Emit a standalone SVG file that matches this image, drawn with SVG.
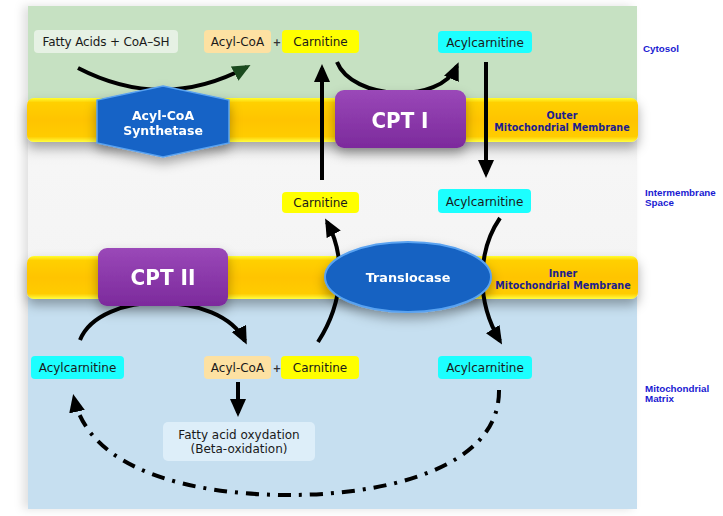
<svg xmlns="http://www.w3.org/2000/svg" width="723" height="516" viewBox="0 0 723 516">
<defs>
  <linearGradient id="memGrad" x1="0" y1="0" x2="0" y2="1">
    <stop offset="0" stop-color="#ffff30"/>
    <stop offset="0.1" stop-color="#ffd000"/>
    <stop offset="0.5" stop-color="#ffc400"/>
    <stop offset="0.88" stop-color="#ffcc00"/>
    <stop offset="1" stop-color="#ffff40"/>
  </linearGradient>
  <linearGradient id="purpleGrad" x1="0" y1="0" x2="0" y2="1">
    <stop offset="0" stop-color="#9a48b8"/>
    <stop offset="1" stop-color="#7c2a9c"/>
  </linearGradient>
  <linearGradient id="imsGrad" x1="0" y1="0" x2="0" y2="1">
    <stop offset="0" stop-color="#e6e6e6"/>
    <stop offset="0.3" stop-color="#f6f6f6"/>
    <stop offset="1" stop-color="#f4f4f4"/>
  </linearGradient>
  <filter id="shadow" x="-10%" y="-30%" width="120%" height="170%">
    <feDropShadow dx="0" dy="6" stdDeviation="6" flood-color="#000" flood-opacity="0.32"/>
  </filter>
  <filter id="panelShadow" x="-5%" y="-5%" width="110%" height="110%">
    <feDropShadow dx="-5" dy="0" stdDeviation="5" flood-color="#000" flood-opacity="0.12"/>
  </filter>
  <marker id="arrowBlack" markerUnits="userSpaceOnUse" markerWidth="18" markerHeight="16" refX="14" refY="8" orient="auto">
    <path d="M0,0 L18,8 L0,16 z" fill="#000"/>
  </marker>
  <marker id="arrowGreen" markerUnits="userSpaceOnUse" markerWidth="18" markerHeight="16" refX="14" refY="8" orient="auto">
    <path d="M0,0 L18,8 L0,16 z" fill="#1a4a1e"/>
  </marker>
  <style>
    .node { font-family: "DejaVu Sans", Verdana, sans-serif; font-size: 12px; fill: #1a1a1a; text-anchor: middle; }
    .plus { font-family: "DejaVu Sans", sans-serif; font-size: 10px; font-weight: bold; fill: #333; text-anchor: middle; }
    .enz { font-family: "DejaVu Sans", Verdana, sans-serif; font-weight: bold; fill: #ffffff; text-anchor: middle; }
    .region { font-family: "Liberation Sans", Arial, sans-serif; font-weight: bold; font-size: 9.8px; fill: #1a1ad2; }
    .memlbl { font-family: "DejaVu Sans", Verdana, sans-serif; font-weight: bold; font-size: 9.6px; fill: #1c1c8e; text-anchor: middle; }
    .conn { fill: none; stroke: #000; stroke-width: 4; }
    .box { stroke: none; }
  </style>
</defs>

<!-- background regions -->
<g id="regions" filter="url(#panelShadow)">
  <rect x="28" y="6" width="609" height="110" fill="#c6e1c2"/>
  <rect x="28" y="116" width="609" height="164" fill="url(#imsGrad)"/>
  <rect x="28" y="280" width="609" height="229" fill="#c6dff0"/>
</g>

<g id="outer-membrane" filter="url(#shadow)">
  <rect x="27" y="98" width="611" height="44" rx="7" fill="url(#memGrad)"/>
</g>
<g id="inner-membrane" filter="url(#shadow)">
  <rect x="27" y="256" width="611" height="43" rx="7" fill="url(#memGrad)"/>
</g>

<!-- connectors -->
<g id="connectors">
  <path class="conn" d="M78,68 Q163,112 247,67" stroke="#1a4a1e" stroke-width="5" marker-end="url(#arrowGreen)"/>
  <path class="conn" d="M322,180 L322,68" marker-end="url(#arrowBlack)"/>
  <path class="conn" d="M337,62 C352,100 440,105 457,66" marker-end="url(#arrowBlack)"/>
  <path class="conn" d="M486,62 L486,174" marker-end="url(#arrowBlack)"/>
  <path class="conn" d="M318,342 C345,300 345,255 327,222" marker-end="url(#arrowBlack)"/>
  <path class="conn" d="M500,218 C478,250 475,300 500,341" marker-end="url(#arrowBlack)"/>
  <path class="conn" d="M80,340 C100,290 220,290 245,341" marker-end="url(#arrowBlack)"/>
  <path class="conn" d="M238,382 L238,413" marker-end="url(#arrowBlack)"/>
  <path class="conn" d="M499,390 C500,470 380,495 290,495 C190,495 90,470 74,398" stroke-dasharray="13 8 3 8" marker-end="url(#arrowBlack)"/>
</g>

<!-- enzymes -->
<g id="acyl-coa-synthetase" filter="url(#shadow)">
  <polygon points="163,86 229,100 229,143 163,157 97,143 97,100" fill="#1464c6" stroke="#5aa2f0" stroke-width="1.5"/>
  <text class="enz" x="163" y="119.5" font-size="12.5">Acyl-CoA</text>
  <text class="enz" x="163" y="134.5" font-size="12.5">Synthetase</text>
</g>
<g id="cpt1" filter="url(#shadow)">
  <rect x="335" y="90" width="131" height="58" rx="9" fill="url(#purpleGrad)"/>
  <text class="enz" x="400" y="128" font-size="22" textLength="57" lengthAdjust="spacingAndGlyphs">CPT I</text>
</g>
<g id="cpt2" filter="url(#shadow)">
  <rect x="98" y="248" width="130" height="58" rx="9" fill="url(#purpleGrad)"/>
  <text class="enz" x="163" y="285" font-size="22" textLength="65" lengthAdjust="spacingAndGlyphs">CPT II</text>
</g>
<g id="translocase" filter="url(#shadow)">
  <ellipse cx="408" cy="277" rx="83" ry="35" fill="#1262c2" stroke="#5aa2f0" stroke-width="2"/>
  <text class="enz" x="408" y="281.5" font-size="12.8">Translocase</text>
</g>

<!-- cytosol nodes -->
<g id="fatty-acids">
  <rect class="box" x="34" y="30" width="144" height="23" rx="4" fill="#e6f1e4"/>
  <text class="node" x="106" y="46" textLength="127">Fatty Acids + CoA–SH</text>
</g>
<g id="acyl-coa-top">
  <rect class="box" x="204" y="30" width="67" height="23" rx="4" fill="#fde1a2"/>
  <text class="node" x="237.5" y="46">Acyl-CoA</text>
</g>
<g id="plus-top"><text class="plus" x="277" y="45.5">+</text></g>
<g id="carnitine-top">
  <rect class="box" x="282" y="30" width="77" height="23" rx="4" fill="#ffff00"/>
  <text class="node" x="320.5" y="46">Carnitine</text>
</g>
<g id="acylcarnitine-top">
  <rect class="box" x="438" y="31" width="94" height="22" rx="4" fill="#1cffff"/>
  <text class="node" x="485" y="46.5">Acylcarnitine</text>
</g>

<!-- intermembrane nodes -->
<g id="carnitine-mid">
  <rect class="box" x="282" y="192" width="77" height="21" rx="4" fill="#ffff00"/>
  <text class="node" x="320.5" y="207">Carnitine</text>
</g>
<g id="acylcarnitine-mid">
  <rect class="box" x="438" y="189" width="93" height="24" rx="4" fill="#1cffff"/>
  <text class="node" x="484.5" y="205.5">Acylcarnitine</text>
</g>

<!-- matrix nodes -->
<g id="acylcarnitine-left">
  <rect class="box" x="31" y="356" width="93" height="23" rx="4" fill="#1cffff"/>
  <text class="node" x="77.5" y="372">Acylcarnitine</text>
</g>
<g id="acyl-coa-bottom">
  <rect class="box" x="204" y="356" width="67" height="23" rx="4" fill="#fde1a2"/>
  <text class="node" x="237.5" y="372">Acyl-CoA</text>
</g>
<g id="plus-bottom"><text class="plus" x="277" y="371.5">+</text></g>
<g id="carnitine-bottom">
  <rect class="box" x="281" y="356" width="78" height="23" rx="4" fill="#ffff00"/>
  <text class="node" x="320" y="372">Carnitine</text>
</g>
<g id="acylcarnitine-right">
  <rect class="box" x="438" y="356" width="94" height="23" rx="4" fill="#1cffff"/>
  <text class="node" x="485" y="372">Acylcarnitine</text>
</g>
<g id="beta-oxidation">
  <rect class="box" x="163" y="422" width="152" height="39" rx="5" fill="#ddeef9"/>
  <text class="node" x="239" y="438.5">Fatty acid oxydation</text>
  <text class="node" x="239" y="452.5">(Beta-oxidation)</text>
</g>

<!-- labels -->
<g id="labels">
  <text class="region" x="643" y="51.5">Cytosol</text>
  <text class="region" x="645" y="195.5">Intermembrane</text>
  <text class="region" x="645" y="206">Space</text>
  <text class="region" x="645" y="391.5">Mitochondrial</text>
  <text class="region" x="645" y="402">Matrix</text>
  <text class="memlbl" x="562" y="118.5">Outer</text>
  <text class="memlbl" x="562" y="130.5">Mitochondrial Membrane</text>
  <text class="memlbl" x="563" y="276.5">Inner</text>
  <text class="memlbl" x="563" y="288.5">Mitochondrial Membrane</text>
</g>
</svg>
